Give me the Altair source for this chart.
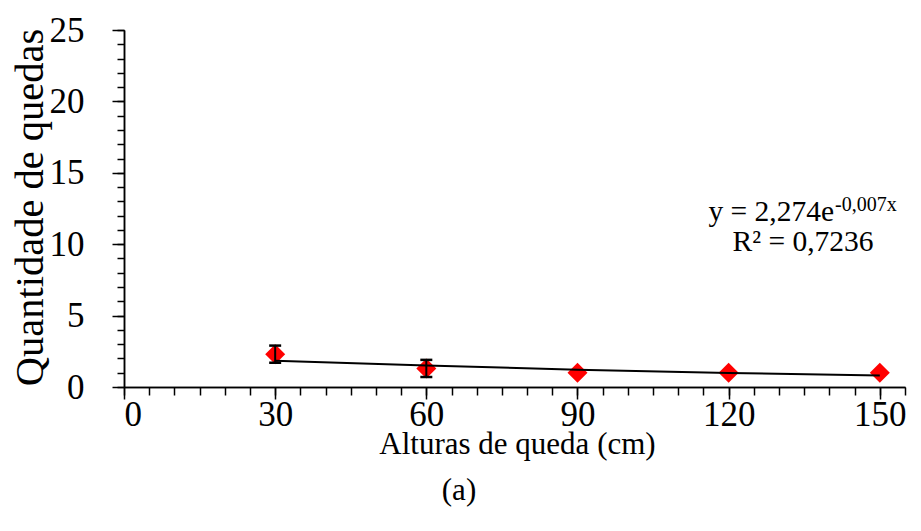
import altair as alt
import pandas as pd

# Data
heights = [30, 60, 90, 120, 150]
falls = [2.3, 1.3, 1.0, 1.0, 1.0]
errors = [0.6, 0.6, 0.0, 0.0, 0.0]
trend_x = [30, 60, 90, 120, 150]
trend_y = [1.84, 1.50, 1.21, 0.98, 0.80]
x_major = [0, 30, 60, 90, 120, 150]
x_minor = list(range(0, 156, 5))
y_major = [0, 5, 10, 15, 20, 25]
y_minor = list(range(0, 26))
eq_main = "y = 2,274e"
eq_exp = "-0,007x"
eq_r2 = "R² = 0,7236"
panel = "(a)"

FONT = "Liberation Serif"

pts = pd.DataFrame({"h": heights, "q": falls, "e": errors})
pts["lo"] = pts["q"] - pts["e"]
pts["hi"] = pts["q"] + pts["e"]
trend = pd.DataFrame({"h": trend_x, "q": trend_y})

xs = alt.Scale(domain=[0, 155], nice=False, zero=False)
ys = alt.Scale(domain=[0, 25], nice=False)

x_major_axis = alt.Axis(
    values=x_major, orient="bottom", tickSize=12, labelFontSize=35, labelFont=FONT,
    labelBaseline="alphabetic", labelPadding=26, labelColor="black",
    title="Alturas de queda (cm)", titleFont=FONT, titleFontSize=31,
    titleFontWeight="normal", titleColor="black", titleBaseline="alphabetic",
    titleX=393, titleY=66, titleAnchor="middle",
)
y_major_axis = alt.Axis(
    values=y_major, orient="left", tickSize=12, labelFontSize=35, labelFont=FONT,
    labelPadding=28, labelColor="black",
    title="Quantidade de quedas", titleFont=FONT, titleFontSize=40.5,
    titleFontWeight="normal", titleColor="black", titleAngle=270,
    titleBaseline="alphabetic", titleAlign="center", titleX=-82, titleY=177,
)
x_minor_axis = alt.Axis(values=x_minor, orient="bottom", tickSize=8, labels=False, title=None)
y_minor_axis = alt.Axis(values=y_minor, orient="left", tickSize=7, labels=False, title=None)

points = alt.Chart(pts).mark_point(
    shape="diamond", filled=True, color="#FF0000", size=400, opacity=1
).encode(
    x=alt.X("h:Q", scale=xs, axis=x_major_axis),
    y=alt.Y("q:Q", scale=ys, axis=y_major_axis),
)

line = alt.Chart(trend).mark_line(color="black", strokeWidth=2).encode(
    x=alt.X("h:Q", scale=xs, axis=x_minor_axis),
    y=alt.Y("q:Q", scale=ys, axis=y_minor_axis),
)

errbase = alt.Chart(pts).transform_filter("datum.e > 0")
err_rule = errbase.mark_rule(color="black", strokeWidth=2).encode(
    x=alt.X("h:Q", scale=xs, axis=None),
    y=alt.Y("lo:Q", scale=ys, axis=None),
    y2="hi:Q",
)
cap_lo = errbase.mark_tick(color="black", orient="horizontal", size=12, thickness=2.5, opacity=1).encode(
    x=alt.X("h:Q", scale=xs, axis=None),
    y=alt.Y("lo:Q", scale=ys, axis=None),
)
cap_hi = errbase.mark_tick(color="black", orient="horizontal", size=12, thickness=2.5, opacity=1).encode(
    x=alt.X("h:Q", scale=xs, axis=None),
    y=alt.Y("hi:Q", scale=ys, axis=None),
)

ann = pd.DataFrame({"main": [eq_main], "exp": [eq_exp], "r2": [eq_r2], "panel": [panel]})
annb = alt.Chart(ann)
t_main = annb.mark_text(font=FONT, fontSize=29.5, align="right", baseline="alphabetic", color="black").encode(
    text="main:N", x=alt.value(710), y=alt.value(191))
t_exp = annb.mark_text(font=FONT, fontSize=20, align="left", baseline="alphabetic", color="black").encode(
    text="exp:N", x=alt.value(711), y=alt.value(181))
t_r2 = annb.mark_text(font=FONT, fontSize=29.5, align="center", baseline="alphabetic", color="black").encode(
    text="r2:N", x=alt.value(679), y=alt.value(221))
t_panel = annb.mark_text(font=FONT, fontSize=31, align="center", baseline="alphabetic", color="black").encode(
    text="panel:N", x=alt.value(335), y=alt.value(470))

chart = alt.layer(
    points, line, err_rule, cap_lo, cap_hi, t_main, t_exp, t_r2, t_panel
).resolve_axis(x="independent", y="independent").properties(
    width=781, height=357,
    autosize=alt.AutoSizeParams(type="none"),
    padding={"left": 116, "top": 22, "right": 8, "bottom": 136},
    background="white",
).configure_view(stroke=None).configure_axis(
    grid=False, domainColor="black", tickColor="black", domainWidth=1.5, tickWidth=1.5,
)

chart.save("out.html", embed_options={"renderer": "svg", "actions": False})
